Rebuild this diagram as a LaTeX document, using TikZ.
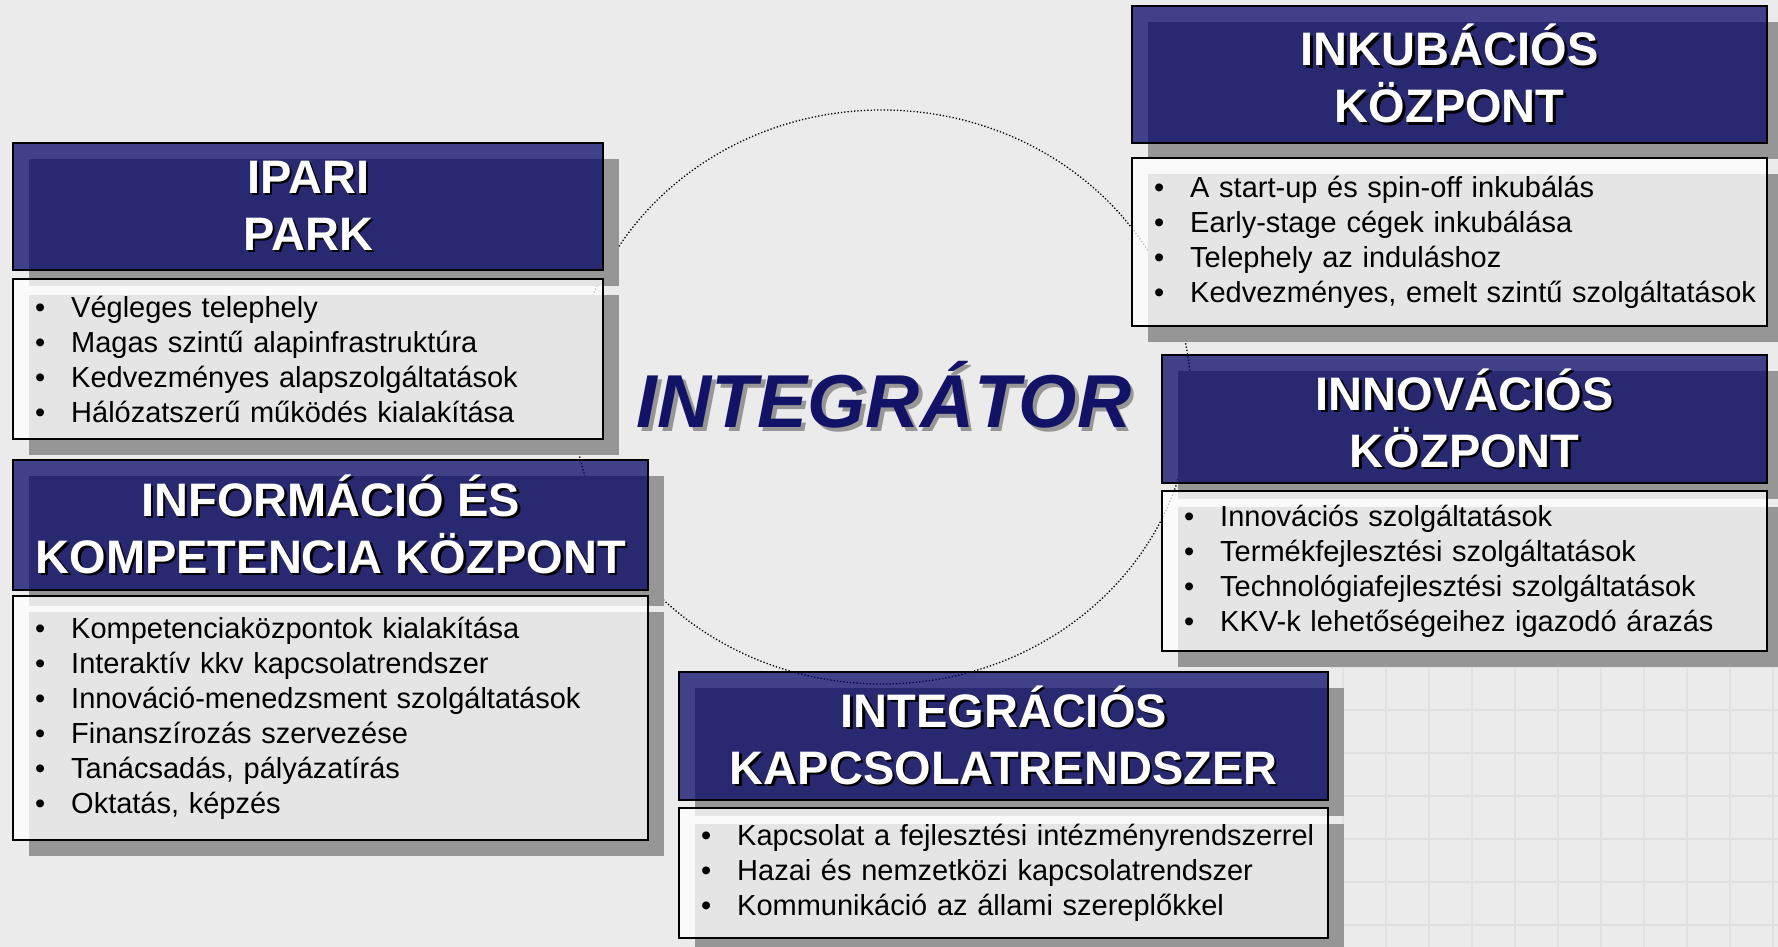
\documentclass[tikz,border=0pt]{standalone}
\usepackage{fontspec}
\setmainfont{Liberation Sans}
\usetikzlibrary{shadows,shapes.geometric}
\definecolor{navy}{RGB}{0,0,100}
\definecolor{shadowgray}{RGB}{150,150,150}
\definecolor{bggray}{RGB}{235,235,235}
\definecolor{gridgray}{RGB}{224,224,224}
\definecolor{intnavy}{RGB}{18,18,102}
\newcommand{\hs}[1]{\leavevmode\rlap{\kern2.5pt\raisebox{-2.5pt}{\color{black}#1}}#1}
\newcommand{\gs}[1]{\leavevmode\rlap{\kern3.5pt\raisebox{-3.5pt}{\color{shadowgray}#1}}#1}
\newcommand{\bl}[1]{\mbox{\makebox[36pt][l]{•}#1}}
\begin{document}
\begin{tikzpicture}[x=1pt,y=-1pt,
  shd/.style={drop shadow={shadow xshift=16pt,shadow yshift=-16pt,opacity=1,fill=shadowgray}},
  hdr/.style={shd,draw=black,line width=2.4pt,fill=navy,fill opacity=0.72,text opacity=1,
    text=white,align=center,font=\fontsize{47}{57}\selectfont\bfseries,inner sep=0pt,anchor=north west},
  bodybox/.style={shd,draw=black,line width=2.4pt,fill=white,fill opacity=0.76,text opacity=1,
    text=black,align=left,font=\fontsize{29}{35}\selectfont,inner xsep=22pt,inner ysep=0pt,anchor=north west},
  ringstyle/.style={ellipse,draw=black,dotted,line width=1.3pt,inner sep=0pt}]
\useasboundingbox (0,0) rectangle (1778,947);
\fill[bggray] (0,0) rectangle (1778,947);
% faint graph paper in the lower right
\begin{scope}
\clip (1330,655) rectangle (1778,947);
\foreach \gx in {1343,1386,...,1778} \draw[gridgray,line width=2.5pt] (\gx,655) -- (\gx,947);
\foreach \gy in {667,710,...,947} \draw[gridgray,line width=2.5pt] (1330,\gy) -- (1778,\gy);
\end{scope}
% dotted ring
\node[ringstyle,minimum width=618pt,minimum height=574pt] (ring) at (882,397) {};
% IPARI PARK
\node[hdr,minimum width=590pt,minimum height=127pt] (ipH) at (12,142) {\hs{IPARI}\\\hs{PARK}};
\node[bodybox,minimum width=590pt,minimum height=160pt,text width=546pt] (ipB) at (12,278)
 {\bl{Végleges telephely}\\\bl{Magas szintű alapinfrastruktúra}\\\bl{Kedvezményes alapszolgáltatások}\\\bl{Hálózatszerű működés kialakítása}};
% INFORMACIO
\node[hdr,minimum width=635pt,minimum height=130pt] (infH) at (12,459) {\hs{INFORMÁCIÓ ÉS}\\\hs{KOMPETENCIA KÖZPONT}};
\node[bodybox,minimum width=635pt,minimum height=244pt,text width=591pt] (infB) at (12,595)
 {\bl{Kompetenciaközpontok kialakítása}\\\bl{Interaktív kkv kapcsolatrendszer}\\\bl{Innováció-menedzsment szolgáltatások}\\\bl{Finanszírozás szervezése}\\\bl{Tanácsadás, pályázatírás}\\\bl{Oktatás, képzés}};
% INKUBACIOS
\node[hdr,minimum width=635pt,minimum height=137pt] (inkH) at (1131,5) {\hs{INKUBÁCIÓS}\\\hs{KÖZPONT}};
\node[bodybox,minimum width=635pt,minimum height=168pt,text width=591pt] (inkB) at (1131,157)
 {\bl{A start-up és spin-off inkubálás}\\\bl{Early-stage cégek inkubálása}\\\bl{Telephely az induláshoz}\\\bl{Kedvezményes, emelt szintű szolgáltatások}};
% INNOVACIOS
\node[hdr,minimum width=605pt,minimum height=128pt] (innH) at (1161,354) {\hs{INNOVÁCIÓS}\\\hs{KÖZPONT}};
\node[bodybox,minimum width=605pt,minimum height=160pt,text width=561pt] (innB) at (1161,490)
 {\bl{Innovációs szolgáltatások}\\\bl{Termékfejlesztési szolgáltatások}\\\bl{Technológiafejlesztési szolgáltatások}\\\bl{KKV-k lehetőségeihez igazodó árazás}};
% INTEGRACIOS
\node[hdr,minimum width=649pt,minimum height=128pt] (intH) at (678,671) {\hs{INTEGRÁCIÓS}\\\hs{KAPCSOLATRENDSZER}};
\node[bodybox,minimum width=649pt,minimum height=130pt,text width=605pt] (intB) at (678,807)
 {\bl{Kapcsolat a fejlesztési intézményrendszerrel}\\\bl{Hazai és nemzetközi kapcsolatrendszer}\\\bl{Kommunikáció az állami szereplőkkel}};
% INTEGRATOR
\node[text=intnavy,font=\fontsize{75}{80}\selectfont\bfseries\itshape,inner sep=0pt] (integ) at (884,397) {\gs{INTEGRÁTOR}};
\end{tikzpicture}
\end{document}
